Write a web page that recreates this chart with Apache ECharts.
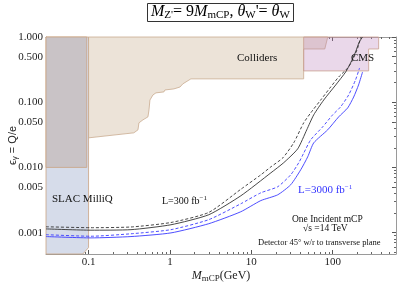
<!DOCTYPE html>
<html><head><meta charset="utf-8">
<script src="https://cdn.jsdelivr.net/npm/echarts@6/dist/echarts.min.js"></script>
<style>html,body{margin:0;padding:0;background:#fff}#c{width:399px;height:284px}</style>
</head><body><div id="c"></div>
<script>
// ---- axis ranges & tick labels ----
const xRange = [0.03, 600];
const yRange = [0.00047, 1];
const xTickLabels = [0.1, 1, 10, 100];
const yTickLabels = [1, 0.5, 0.1, 0.05, 0.01, 0.005, 0.001];

// ---- excluded regions (mass GeV, epsilon) ----
const slacRegion = [[0.03,0.00047],[0.085,0.00047],[0.1,0.00059],[0.1,1],[0.03,1]];
const slacUpperRegion = [[0.03,0.01],[0.095,0.01],[0.095,1],[0.03,1]];
const collidersRegion = [[0.1,1],[0.1,0.0284],[0.36,0.0339],[0.405,0.0377],[0.416,0.0482],[0.466,0.0536],[0.537,0.0596],[0.553,0.0762],[0.568,0.108],[0.618,0.129],[0.673,0.139],[0.844,0.144],[0.868,0.154],[1.12,0.16],[1.33,0.171],[1.44,0.191],[1.81,0.228],[44,0.228],[44,0.655],[80,0.655],[87,1]];
const cmsRegion = [[44,1],[44,0.302],[277,0.302],[277,0.655],[367,0.655],[367,1]];

// ---- projected sensitivity curves ----
const lumi300Solid = [[0.03,0.00114],[0.107,0.00109],[0.332,0.00111],[1.03,0.00132],[3.0,0.00188],[7.43,0.00367],[17.4,0.00826],[25,0.0118],[37.2,0.0193],[48,0.0377],[58.5,0.064],[77.6,0.108],[109,0.184],[144.5,0.291],[166,0.40],[191,0.589],[212,0.838],[233,1]];
const lumi300Dashed = [[0.03,0.00123],[0.107,0.00119],[0.332,0.00122],[1.03,0.00143],[3.0,0.00204],[7.43,0.00462],[13.1,0.0077],[17.4,0.0102],[24.4,0.014],[33.2,0.0238],[44,0.0482],[53.7,0.0686],[71.2,0.108],[94.5,0.171],[118.5,0.244],[153,0.335],[176,0.444],[203,0.679],[221,0.966],[223,1]];
const lumi3000Solid = [[0.03,0.00087],[0.107,0.00083],[0.332,0.00087],[1.03,0.00099],[3.0,0.00137],[7.43,0.00209],[13.1,0.0031],[21.1,0.0038],[30.5,0.00542],[40.5,0.0092],[49.3,0.0145],[58.5,0.0238],[86.8,0.0377],[118.5,0.0596],[153,0.0818],[181,0.12],[208,0.184],[233,0.291]];
const lumi3000Dashed = [[0.03,0.00093],[0.107,0.00088],[0.332,0.00096],[1.03,0.00111],[3.0,0.00158],[7.43,0.00277],[13.1,0.00408],[21.1,0.00505],[30.5,0.0077],[38.3,0.0118],[44,0.0165],[53.7,0.0265],[75.4,0.0419],[100,0.064],[125,0.0847],[157,0.129],[191,0.22],[214,0.335]];

const SERIF = 'Liberation Serif';
const chart = echarts.init(document.getElementById('c'), null, {renderer:'canvas'});

function polySeries(pts, fill, stroke, z) {
  return {
    type: 'custom', xAxisIndex: 0, yAxisIndex: 0, z: z, silent: true,
    data: pts,
    renderItem: function (params, api) {
      if (params.dataIndex !== 0) return null;
      const p = pts.map(d => api.coord(d));
      return {type:'polygon', shape:{points:p}, style:{fill:fill, stroke:stroke, lineWidth:stroke?0.8:0}};
    }
  };
}
function lineSeries(pts, color, dashed, w) {
  return {
    type:'line', xAxisIndex:0, yAxisIndex:0, data:pts, showSymbol:false, symbol:'none', z:10, silent:true,
    smooth: 0.2,
    lineStyle:{color:color, width:w, type: dashed ? [3,2] : 'solid'}
  };
}

const tickCommon = {
  axisLine:{show:true, lineStyle:{color:'#9a9a9a', width:1}},
  axisTick:{show:true, inside:true, length:4, lineStyle:{color:'#555'}},
  minorTick:{show:true, splitNumber:9, length:2, lineStyle:{color:'#666'}},
  splitLine:{show:false}, minorSplitLine:{show:false}
};

const xBase = Object.assign({type:'log', logBase:10, min:xRange[0], max:xRange[1], gridIndex:0}, tickCommon);
const yBase = Object.assign({type:'log', logBase:10, min:yRange[0], max:yRange[1], gridIndex:0}, tickCommon);

chart.setOption({
  animation:false,
  backgroundColor:'#fff',
  title:{
    left:147, top:2, padding:[0,4,1,4], borderColor:'#333', borderWidth:1,
    text:'{i|M}{s|Z\'}{n|= 9}{i|M}{s|mCP}{n|, }{i|θ}{s|W}{n|\'= }{i|θ}{s|W}',
    textStyle:{fontWeight:'normal', rich:{
      i:{fontFamily:SERIF, fontStyle:'italic', fontWeight:'normal', fontSize:16, lineHeight:19, color:'#000'},
      n:{fontFamily:SERIF, fontWeight:'normal', fontSize:16, lineHeight:19, color:'#000'},
      s:{fontFamily:SERIF, fontWeight:'normal', fontSize:11, lineHeight:11, verticalAlign:'bottom', color:'#000'}
    }}
  },
  grid:{left:46, right:3, top:37, bottom:30, containLabel:false, outerBoundsMode:'none'},
  xAxis:[
    Object.assign({}, xBase, {
      position:'bottom',
      axisTick:Object.assign({}, tickCommon.axisTick, {customValues:xTickLabels}),
      axisLabel:{show:true, customValues:xTickLabels, fontFamily:SERIF, fontSize:11, color:'#222', margin:3,
        formatter:v=>String(parseFloat(Number(v).toPrecision(3)))},
      name:'{i|M}{s|mCP}{n|(GeV)}', nameLocation:'middle', nameGap:15, nameMoveOverlap:false,
      nameTextStyle:{rich:{
        i:{fontFamily:SERIF, fontStyle:'italic', fontSize:12, lineHeight:14, color:'#222'},
        n:{fontFamily:SERIF, fontSize:12, lineHeight:14, color:'#222'},
        s:{fontFamily:SERIF, fontSize:9, lineHeight:9, verticalAlign:'bottom', color:'#222'}
      }}
    }),
    Object.assign({}, xBase, {position:'top', axisLabel:{show:false},
      axisTick:Object.assign({}, tickCommon.axisTick, {customValues:xTickLabels})})
  ],
  yAxis:[
    Object.assign({}, yBase, {
      position:'left',
      axisTick:Object.assign({}, tickCommon.axisTick, {customValues:yTickLabels}),
      axisLabel:{show:true, customValues:yTickLabels, fontFamily:SERIF, fontSize:11, color:'#222', margin:3,
        formatter:v=>Number(v).toFixed(3)},
      name:'{n|ϵ}{s|γ}{n| = Q/e}', nameLocation:'middle', nameGap:27, nameRotate:90, nameMoveOverlap:false,
      nameTextStyle:{rich:{
        n:{fontFamily:'Liberation Sans', fontSize:11, lineHeight:13, color:'#222'},
        s:{fontFamily:'Liberation Sans', fontSize:8, lineHeight:8, verticalAlign:'bottom', color:'#222'}
      }}
    }),
    Object.assign({}, yBase, {position:'right', axisLabel:{show:false},
      axisTick:Object.assign({}, tickCommon.axisTick, {customValues:yTickLabels})})
  ],
  series:[
    polySeries(slacRegion, '#d6dcea', '#c9a384', 1),
    polySeries(slacUpperRegion, '#c9c3c6', '#c9a384', 2),
    polySeries(collidersRegion, '#ece3d8', '#c9ab8f', 3),
    polySeries(cmsRegion, 'rgba(185,125,185,0.3)', '#c9a08f', 4),
    lineSeries(lumi300Dashed, '#333', true, 0.9),
    lineSeries(lumi300Solid, '#333', false, 0.9),
    lineSeries(lumi3000Dashed, '#3a3aff', true, 0.9),
    lineSeries(lumi3000Solid, '#3a3aff', false, 0.9)
  ],
  graphic:[
    {type:'text', z:100, left:237, top:53, style:{text:'Colliders', font:'11px "Liberation Serif"', fill:'#111'}},
    {type:'text', z:100, left:351, top:53, style:{text:'CMS', font:'11px "Liberation Serif"', fill:'#111'}},
    {type:'text', z:100, left:52, top:194, style:{text:'SLAC MilliQ', font:'11px "Liberation Serif"', fill:'#111'}},
    {type:'text', z:100, left:162, top:195, style:{text:'{n|L=300 fb}{p|−1}',
      rich:{n:{fontFamily:SERIF, fontSize:10, lineHeight:12, fill:'#111'}, p:{fontFamily:SERIF, fontSize:7, lineHeight:8, verticalAlign:'top', fill:'#111'}}}},
    {type:'text', z:100, left:298, top:184, style:{text:'{n|L=3000 fb}{p|−1}',
      rich:{n:{fontFamily:SERIF, fontSize:11, lineHeight:13, fill:'#3333ff'}, p:{fontFamily:SERIF, fontSize:7, lineHeight:8, verticalAlign:'top', fill:'#3333ff'}}}},
    {type:'text', z:100, left:292, top:214, style:{text:'One Incident mCP', font:'9.5px "Liberation Serif"', fill:'#111'}},
    {type:'text', z:100, left:303, top:223, style:{text:'√s =14 TeV', font:'9.5px "Liberation Serif"', fill:'#111'}},
    {type:'text', z:100, left:258, top:238, style:{text:'Detector 45° w/r to transverse plane', font:'8.5px "Liberation Serif"', fill:'#111'}}
  ]
});
</script></body></html>
